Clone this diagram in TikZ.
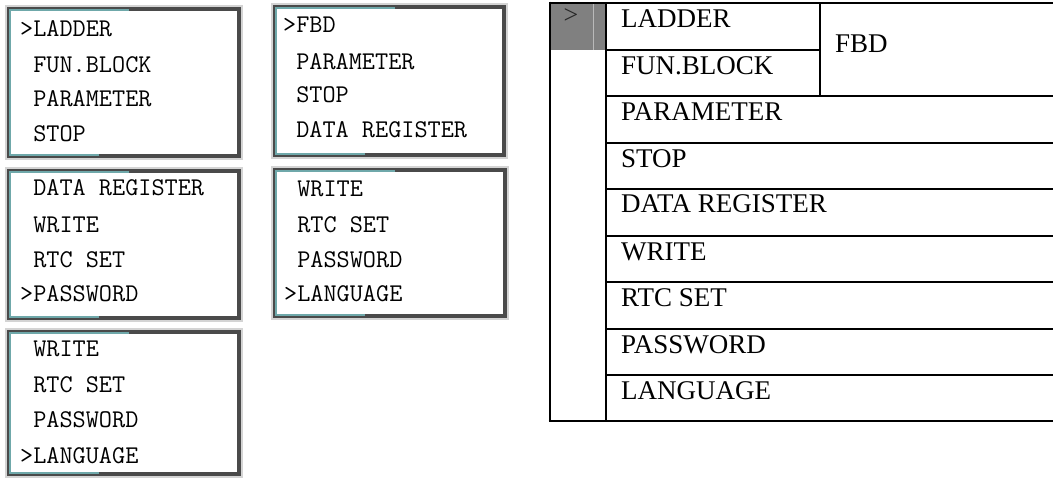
\documentclass[tikz,border=0pt]{standalone}
\usepackage{fontspec}
\setmainfont{Liberation Serif}
\definecolor{lcddark}{HTML}{4A4A4A}
\definecolor{lcdteal}{HTML}{6FA8AA}
\definecolor{lcdhalo}{HTML}{D4D4D4}
\definecolor{cellgray}{HTML}{808080}
\newcommand\lcdframe[4]{%
  \draw[lcdhalo, line width=2pt] (#1-3,#2-3) rectangle (#3+3,#4+3);
  \draw[lcddark, line width=4pt] (#1,#2) rectangle (#3,#4);
  \draw[lcdteal, line width=1.6pt] (#1+120,#2+1) -- (#1+1,#2+1) -- (#1+1,#4-1) -- (#1+90,#4-1);
}
\begin{document}
\begin{tikzpicture}[x=1pt,y=-1pt,
  lcdtxt/.style={anchor=base west, inner sep=0pt, font=\ttfamily\fontsize{25.5}{25}\selectfont},
  tabtxt/.style={anchor=base west, inner sep=0pt, font=\fontsize{27}{28}\selectfont},
  rule/.style={line width=2.6pt, black}]
\useasboundingbox (0,0) rectangle (1053,478);
\fill[white] (0,0) rectangle (1053,478);

% ---------- LCD screens ----------
\lcdframe{9}{9}{239}{156}
\node[lcdtxt] (a1) at (20,37)  {>LADDER};
\node[lcdtxt] (a2) at (20,73)  {\ FUN.BLOCK};
\node[lcdtxt] (a3) at (20,107) {\ PARAMETER};
\node[lcdtxt] (a4) at (20,142) {\ STOP};

\lcdframe{275}{7}{504}{155}
\node[lcdtxt] (b1) at (283,33)  {>FBD};
\node[lcdtxt] (b2) at (283,70)  {\ PARAMETER};
\node[lcdtxt] (b3) at (283,103) {\ STOP};
\node[lcdtxt] (b4) at (283,138) {\ DATA REGISTER};

\lcdframe{9}{171}{239}{318}
\node[lcdtxt] (c1) at (20,196) {\ DATA REGISTER};
\node[lcdtxt] (c2) at (20,233) {\ WRITE};
\node[lcdtxt] (c3) at (20,268) {\ RTC SET};
\node[lcdtxt] (c4) at (20,302) {>PASSWORD};

\lcdframe{275}{170}{505}{316}
\node[lcdtxt] (d1) at (284,197) {\ WRITE};
\node[lcdtxt] (d2) at (284,233) {\ RTC SET};
\node[lcdtxt] (d3) at (284,268) {\ PASSWORD};
\node[lcdtxt] (d4) at (284,302) {>LANGUAGE};

\lcdframe{9}{332}{239}{474}
\node[lcdtxt] (e1) at (20,357) {\ WRITE};
\node[lcdtxt] (e2) at (20,393) {\ RTC SET};
\node[lcdtxt] (e3) at (20,428) {\ PASSWORD};
\node[lcdtxt] (e4) at (20,463) {>LANGUAGE};

% ---------- table ----------
\fill[cellgray] (551,3) rectangle (605,50);
\draw[gray!55, line width=1pt] (593,4) -- (593,50);
\node[anchor=base, inner sep=0pt, font=\fontsize{26}{26}\selectfont, text=black!85] (gt) at (571,24) {>};

\draw[rule] (550,3) -- (1053,3);
\draw[rule] (550,1.7) -- (550,422);
\draw[rule] (606,3) -- (606,422);
\draw[rule] (820,3) -- (820,96);
\draw[rule] (606,50) -- (820,50);
\foreach \yy in {96,143,189,236,282,329,375} {
  \draw[rule] (606,\yy) -- (1053,\yy);
}
\draw[rule] (548.7,421) -- (1053,421);

\node[tabtxt] (t1) at (621,28)  {LADDER};
\node[tabtxt] (t2) at (621,75)  {FUN.BLOCK};
\node[tabtxt] (fbd) at (835,53) {FBD};
\node[tabtxt] (t3) at (621,121) {PARAMETER};
\node[tabtxt] (t4) at (621,168) {STOP};
\node[tabtxt] (t5) at (621,213) {DATA REGISTER};
\node[tabtxt] (t6) at (621,261) {WRITE};
\node[tabtxt] (t7) at (621,307) {RTC SET};
\node[tabtxt] (t8) at (621,354) {PASSWORD};
\node[tabtxt] (t9) at (621,400) {LANGUAGE};
\end{tikzpicture}
\end{document}
